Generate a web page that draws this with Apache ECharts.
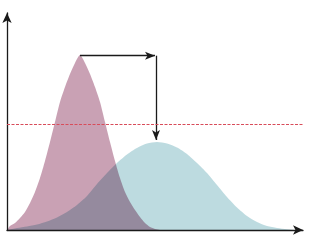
<!DOCTYPE html>
<html>
<head>
<meta charset="utf-8">
<script src="https://cdn.jsdelivr.net/npm/echarts@6/dist/echarts.min.js"></script>
<style>
html,body{margin:0;padding:0;background:#fff;}
#c{width:320px;height:240px;}
</style>
</head>
<body>
<div id="c"></div>
<script>
// Narrow (pink) distribution
const pinkX = [0, 3, 8, 13, 18, 23, 28, 33, 38, 43, 48, 53, 58, 63, 68, 73, 78, 83, 88, 93, 98, 103, 108, 113, 118, 123, 128, 133, 138, 143, 148, 153];
const pinkY = [0, 4, 7, 12, 18, 27, 38, 52, 69, 88, 108, 128, 143, 156, 167, 175, 167, 156, 143, 128, 108, 88, 69, 52, 38, 28, 20, 13, 7, 3, 1, 0];
// Wide (teal) distribution
const tealX = [0, 10, 20, 30, 40, 50, 60, 70, 80, 90, 100, 110, 120, 130, 140, 150, 160, 170, 180, 190, 200, 210, 220, 230, 240, 250, 260, 270, 280, 290];
const tealY = [0, 2, 3.5, 5.5, 8.5, 12.5, 18, 25, 34, 46, 57, 67, 75.5, 82, 86.5, 88, 86.5, 82.5, 76, 67, 57, 45, 33, 22.5, 14, 8, 4, 2, 0.8, 0];
// Threshold (red dashed) level
const thresholdY = 105.5;
const thresholdX = [0, 310];

const chart = echarts.init(document.getElementById('c'), null, {renderer: 'canvas'});

function peak(xs, ys) {
  let k = 0;
  for (let i = 1; i < ys.length; i++) if (ys[i] > ys[k]) k = i;
  return [xs[k], ys[k]];
}
const pinkPeak = peak(pinkX, pinkY);
const tealPeak = peak(tealX, tealY);

function areaSeries(xs, ys, color) {
  return {
    type: 'custom',
    silent: true,
    clip: false,
    blendMode: 'multiply',
    data: xs.map((x, i) => [x, ys[i]]),
    renderItem: function (params, api) {
      if (params.dataIndex !== 0) return null;
      const pts = [api.coord([xs[0], 0])];
      for (let i = 0; i < xs.length; i++) pts.push(api.coord([xs[i], ys[i]]));
      pts.push(api.coord([xs[xs.length - 1], 0]));
      return {
        type: 'polygon',
        shape: {points: pts, smooth: 0.25},
        style: {fill: color}
      };
    }
  };
}

const axisCommon = {
  type: 'value',
  axisLine: {show: true, symbol: ['none', 'arrow'], symbolSize: [7, 10], lineStyle: {color: '#1a1a1a', width: 1.3}},
  axisTick: {show: false},
  axisLabel: {show: false},
  splitLine: {show: false}
};

chart.setOption({
  animation: false,
  backgroundColor: '#fff',
  grid: {left: 7, right: 17, top: 13, bottom: 10, containLabel: false},
  xAxis: Object.assign({}, axisCommon, {min: 0, max: 296}),
  yAxis: Object.assign({}, axisCommon, {min: 0, max: 217}),
  series: [
    areaSeries(pinkX, pinkY, '#c9a1b4'),
    areaSeries(tealX, tealY, '#bddbe0'),
    {
      type: 'line',
      silent: true,
      clip: false,
      symbol: 'none',
      data: thresholdX.map(x => [x, thresholdY]),
      lineStyle: {color: '#d84c5a', width: 1, type: [3, 1.5]},
      z: 5,
      markLine: {
        silent: true,
        symbol: ['none', 'arrow'],
        symbolSize: [6, 10],
        label: {show: false},
        emphasis: {disabled: true},
        lineStyle: {color: '#1a1a1a', width: 1.3, type: 'solid'},
        data: [
          [{coord: [pinkPeak[0], pinkPeak[1] - 0.7]}, {coord: [tealPeak[0] - 2, pinkPeak[1] - 0.7]}],
          [{coord: [tealPeak[0] - 1, pinkPeak[1] - 0.7]}, {coord: [tealPeak[0] - 1, tealPeak[1] + 2]}]
        ]
      }
    }
  ]
});
</script>
</body>
</html>
